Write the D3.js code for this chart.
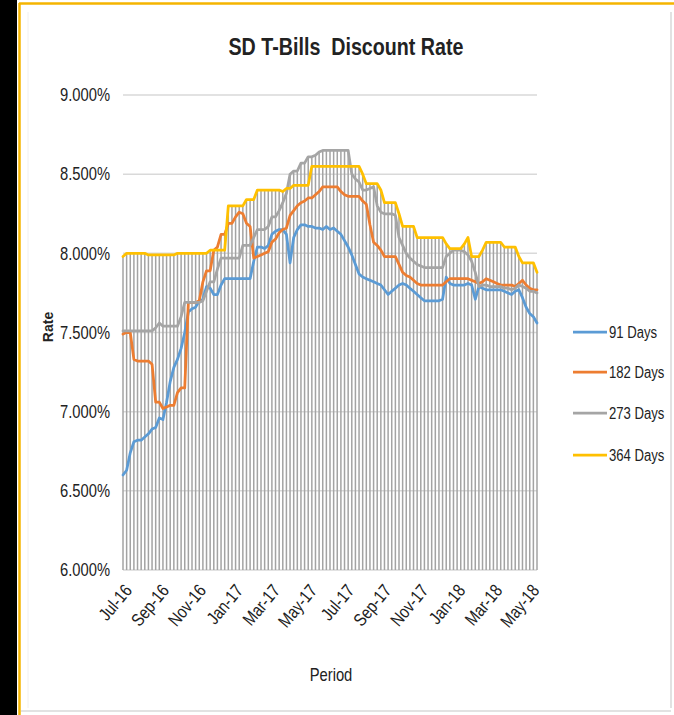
<!DOCTYPE html>
<html><head><meta charset="utf-8">
<script src="https://cdn.jsdelivr.net/npm/d3@7"></script>
<style>
html,body{margin:0;padding:0;background:#fff;}
svg{display:block;}
text{font-family:'Liberation Sans',Arial,sans-serif;fill:#222;}
</style></head>
<body>
<script>
// ---- DATA ----
const seriesNames = ["91 Days","182 Days","273 Days","364 Days"];
const seriesColors = ["#5b9bd5","#ed7d31","#a5a5a5","#ffc000"];
const yTicks = [6.0,6.5,7.0,7.5,8.0,8.5,9.0];
const xTickLabels = ["Jul-16","Sep-16","Nov-16","Jan-17","Mar-17","May-17","Jul-17","Sep-17","Nov-17","Jan-18","Mar-18","May-18"];
const xTickIndex = [0.3,10.5,20.7,30.9,41.1,51.3,61.5,71.7,81.9,92.1,102.3,112.5];

const d91 = [6.60,6.63,6.74,6.81,6.82,6.82,6.84,6.86,6.89,6.90,
 6.96,6.95,7.06,7.19,7.28,7.33,7.40,7.50,7.63,7.65,
 7.66,7.70,7.71,7.79,7.78,7.74,7.74,7.80,7.84,7.84,
 7.84,7.84,7.84,7.84,7.84,7.84,7.95,8.04,8.04,8.03,
 8.05,8.12,8.14,8.15,8.15,8.12,7.94,8.10,8.15,8.18,
 8.18,8.17,8.17,8.16,8.16,8.15,8.17,8.15,8.16,8.14,
 8.12,8.08,8.04,7.99,7.93,7.87,7.85,7.84,7.83,7.82,
 7.81,7.80,7.77,7.74,7.76,7.78,7.80,7.81,7.80,7.78,
 7.76,7.74,7.72,7.70,7.70,7.70,7.70,7.70,7.71,7.85,
 7.81,7.80,7.80,7.80,7.80,7.81,7.80,7.71,7.79,7.78,
 7.77,7.77,7.77,7.77,7.77,7.76,7.75,7.74,7.76,7.77,
 7.72,7.66,7.62,7.60,7.56];
const d182 = [7.49,7.50,7.50,7.33,7.32,7.32,7.32,7.32,7.30,7.06,
 7.06,7.02,7.03,7.04,7.04,7.12,7.15,7.15,7.69,7.69,
 7.69,7.70,7.82,7.89,7.89,8.02,8.04,8.12,8.12,8.19,
 8.19,8.23,8.26,8.25,8.19,8.17,7.97,7.98,7.99,8.00,
 8.01,8.07,8.09,8.13,8.15,8.16,8.24,8.27,8.30,8.32,
 8.33,8.35,8.35,8.37,8.39,8.42,8.42,8.42,8.42,8.42,
 8.39,8.37,8.36,8.36,8.36,8.36,8.33,8.31,8.18,8.07,
 8.05,8.02,7.98,7.98,7.98,7.98,7.93,7.88,7.86,7.85,
 7.83,7.81,7.80,7.80,7.80,7.80,7.80,7.80,7.80,7.82,
 7.84,7.84,7.84,7.84,7.84,7.84,7.83,7.82,7.81,7.82,
 7.84,7.83,7.82,7.81,7.80,7.80,7.80,7.80,7.79,7.81,
 7.83,7.80,7.78,7.77,7.77];
const d273 = [7.51,7.51,7.51,7.51,7.51,7.51,7.51,7.51,7.51,7.53,
 7.56,7.54,7.54,7.54,7.54,7.54,7.60,7.69,7.69,7.69,
 7.69,7.69,7.70,7.76,7.82,7.82,7.90,7.97,7.97,7.97,
 7.97,7.97,7.97,8.05,8.05,8.05,8.10,8.15,8.15,8.15,
 8.17,8.23,8.23,8.27,8.32,8.38,8.50,8.52,8.52,8.57,
 8.57,8.61,8.61,8.62,8.64,8.65,8.65,8.65,8.65,8.65,
 8.65,8.65,8.65,8.50,8.47,8.45,8.40,8.40,8.41,8.42,
 8.30,8.26,8.25,8.25,8.25,8.24,8.10,8.05,8.00,7.97,
 7.95,7.93,7.92,7.91,7.91,7.91,7.91,7.91,7.91,7.98,
 8.00,8.02,8.02,8.02,8.01,7.99,7.95,7.88,7.79,7.80,
 7.80,7.79,7.79,7.79,7.79,7.78,7.78,7.77,7.78,7.80,
 7.79,7.78,7.76,7.76,7.75];
const d364 = [7.98,8.00,8.00,8.00,8.00,8.00,8.00,7.99,7.99,7.99,
 7.99,7.99,7.99,7.99,7.99,8.00,8.00,8.00,8.00,8.00,
 8.00,8.00,8.00,8.00,8.02,8.02,8.02,8.02,8.02,8.30,
 8.30,8.30,8.30,8.30,8.34,8.34,8.34,8.40,8.40,8.40,
 8.40,8.40,8.40,8.40,8.39,8.41,8.41,8.43,8.43,8.43,
 8.43,8.43,8.55,8.55,8.55,8.55,8.55,8.55,8.55,8.55,
 8.55,8.55,8.55,8.55,8.55,8.55,8.50,8.44,8.44,8.44,
 8.44,8.40,8.32,8.32,8.32,8.32,8.25,8.17,8.17,8.17,
 8.17,8.10,8.10,8.10,8.10,8.10,8.10,8.10,8.10,8.06,
 8.03,8.03,8.03,8.03,8.06,8.10,7.98,7.98,7.98,8.02,
 8.07,8.07,8.07,8.07,8.07,8.04,8.04,8.04,8.04,7.98,
 7.94,7.94,7.94,7.94,7.88];
const allSeries = [d91,d182,d273,d364];

// ---- CHART ----
const W=674,H=715, NARROW=0.82;
const svg=d3.select("body").append("svg").attr("width",W).attr("height",H);
svg.append("rect").attr("width",W).attr("height",H).attr("fill","#fff");
// frame
svg.append("rect").attr("x",0).attr("y",0).attr("width",17).attr("height",H).attr("fill","#000");
svg.append("line").attr("x1",19.5).attr("x2",19.5).attr("y1",3).attr("y2",H).attr("stroke","#f5b400").attr("stroke-width",2.5);
svg.append("line").attr("x1",19).attr("x2",W).attr("y1",3.5).attr("y2",3.5).attr("stroke","#f5b400").attr("stroke-width",2.5);
svg.append("line").attr("x1",671).attr("x2",671).attr("y1",12).attr("y2",708).attr("stroke","#d8d8d8").attr("stroke-width",1.5);
svg.append("line").attr("x1",21).attr("x2",671).attr("y1",711).attr("y2",711).attr("stroke","#d8d8d8").attr("stroke-width",1.5);
svg.append("line").attr("x1",28).attr("x2",28).attr("y1",12).attr("y2",708).attr("stroke","#f0f0f0").attr("stroke-width",1);

const N=d91.length;
const x=d3.scaleLinear().domain([0,N-1]).range([123,537]);
const y=d3.scaleLinear().domain([6,9]).range([570,95]);

// gridlines
svg.append("g").selectAll("line").data(yTicks).join("line")
  .attr("x1",123).attr("x2",537).attr("y1",d=>y(d)).attr("y2",d=>y(d))
  .attr("stroke","#d9d9d9").attr("stroke-width",1.5);

// drop lines
const tops=d3.range(N).map(i=>d3.max(allSeries,s=>s[i]));
svg.append("g").selectAll("line").data(tops).join("line")
  .attr("x1",(d,i)=>x(i)).attr("x2",(d,i)=>x(i))
  .attr("y1",d=>y(d)).attr("y2",y(6))
  .attr("stroke","#a3a3a3").attr("stroke-width",1.5);

// y labels
svg.append("g").selectAll("text").data(yTicks).join("text")
  .attr("transform",d=>`translate(110,${y(d)}) scale(${NARROW},1)`)
  .attr("dy","0.35em").attr("text-anchor","end")
  .style("font-size","18px").text(d=>d.toFixed(3)+"%");

// x labels
svg.append("g").selectAll("text").data(xTickLabels).join("text")
  .attr("transform",(d,i)=>`translate(${x(xTickIndex[i])+4},587) rotate(-50) scale(${NARROW},1)`)
  .attr("text-anchor","end").attr("dy","0.35em")
  .style("font-size","18px").text(d=>d);

// series lines
const line=d3.line().x((d,i)=>x(i)).y(d=>y(d));
allSeries.forEach((s,k)=>{
  svg.append("path").datum(s).attr("d",line).attr("fill","none")
    .attr("stroke",seriesColors[k]).attr("stroke-width",2.75)
    .attr("stroke-linejoin","round").attr("stroke-linecap","round");
});

// title
svg.append("text").attr("transform",`translate(346,55) scale(${NARROW},1)`).attr("text-anchor","middle")
  .style("font-size","24px").style("font-weight","bold").style("white-space","pre")
  .text("SD T-Bills  Discount Rate");

// axis titles
svg.append("text").attr("transform","translate(53,327) rotate(-90)").attr("text-anchor","middle")
  .style("font-size","14px").style("font-weight","bold")
  .text("Rate");
svg.append("text").attr("transform",`translate(331,681) scale(${NARROW},1)`).attr("text-anchor","middle")
  .style("font-size","18px").text("Period");

// legend
const legY=[332,372,413,455];
const leg=svg.append("g").selectAll("g").data(seriesNames).join("g")
  .attr("transform",(d,i)=>`translate(573,${legY[i]})`);
leg.append("line").attr("x1",0).attr("x2",34).attr("stroke",(d,i)=>seriesColors[i]).attr("stroke-width",2.75);
leg.append("text").attr("transform",`translate(36,0) scale(${NARROW},1)`).attr("dy","0.35em").style("font-size","16px").text(d=>d);
</script>
</body></html>
